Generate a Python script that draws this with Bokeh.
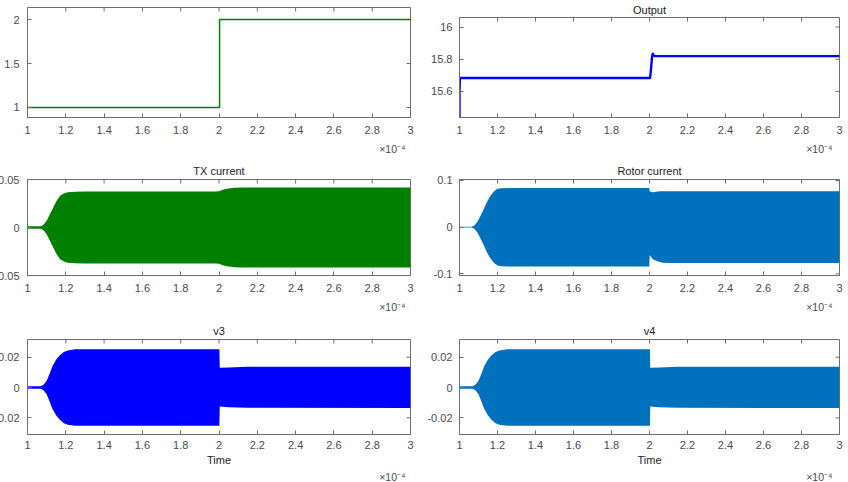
import math

from bokeh.plotting import figure
from bokeh.layouts import column, row
from bokeh.models import Range1d, FixedTicker, Title
from bokeh.embed import file_html
from bokeh.resources import INLINE

# ---------------------------------------------------------------- data
# time axis is in units of 1e-4 s
x_ticks = [1, 1.2, 1.4, 1.6, 1.8, 2, 2.2, 2.4, 2.6, 2.8, 3]
x_tick_labels = ["1", "1.2", "1.4", "1.6", "1.8", "2", "2.2", "2.4", "2.6", "2.8", "3"]

# input step
input_t = [1.0, 2.003, 2.003, 3.0]
input_v = [1.0, 1.0, 2.0, 2.0]

# output
output_t = [1.0, 1.0, 1.002, 2.003, 2.008, 2.013, 2.017, 2.022, 2.03, 3.0]
output_v = [15.44, 15.60, 15.683, 15.683, 15.74, 15.81, 15.834, 15.823, 15.819, 15.819]

# TX current envelope
tx_t = [1.00, 1.07, 1.085, 1.10, 1.115, 1.13, 1.15, 1.17, 1.19, 1.21, 1.25, 1.30,
        1.98, 2.00, 2.02, 2.04, 2.06, 2.08, 2.12, 3.00]
tx_hi = [0.0012, 0.0012, 0.003, 0.007, 0.013, 0.019, 0.027, 0.033, 0.0355, 0.0368, 0.0373, 0.0375,
         0.0375, 0.0378, 0.0392, 0.0403, 0.041, 0.0414, 0.0416, 0.0416]
tx_lo = [-0.0012, -0.0012, -0.003, -0.007, -0.013, -0.019, -0.027, -0.033, -0.0355, -0.0368, -0.0373, -0.0375,
         -0.0375, -0.0378, -0.0392, -0.0403, -0.041, -0.0414, -0.0416, -0.0416]

# rotor current envelope
rotor_t = [1.00, 1.065, 1.08, 1.095, 1.11, 1.125, 1.14, 1.155, 1.17, 1.185, 1.20, 1.22, 1.26,
           1.999, 2.001, 2.01, 2.02, 2.035, 2.05, 2.07, 2.10, 3.00]
rotor_hi = [0.001, 0.001, 0.004, 0.012, 0.024, 0.036, 0.050, 0.062, 0.071, 0.078, 0.082, 0.0835, 0.084,
            0.084, 0.077, 0.075, 0.0745, 0.076, 0.077, 0.077, 0.077, 0.077]
rotor_lo = [-0.001, -0.001, -0.004, -0.012, -0.024, -0.036, -0.050, -0.062, -0.071, -0.078, -0.082, -0.0835, -0.084,
            -0.084, -0.060, -0.065, -0.069, -0.072, -0.074, -0.076, -0.077, -0.077]

# v3 envelope
v3_t = [1.00, 1.07, 1.085, 1.10, 1.115, 1.13, 1.15, 1.17, 1.19, 1.21, 1.25, 1.30,
        2.002, 2.004, 2.05, 2.15, 3.00]
v3_hi = [0.0008, 0.0008, 0.002, 0.0045, 0.009, 0.014, 0.0185, 0.0215, 0.0235, 0.0245, 0.0252, 0.0253,
         0.0253, 0.0130, 0.0133, 0.0137, 0.0137]
v3_lo = [-0.0008, -0.0008, -0.002, -0.0045, -0.009, -0.014, -0.0185, -0.0215, -0.0235, -0.0245, -0.0252, -0.0253,
         -0.0253, -0.0125, -0.0130, -0.0134, -0.0135]

# v4 envelope
v4_t = [1.00, 1.07, 1.085, 1.10, 1.115, 1.13, 1.15, 1.17, 1.19, 1.21, 1.25, 1.30,
        2.002, 2.004, 2.05, 2.15, 3.00]
v4_hi = [0.0008, 0.0008, 0.002, 0.0045, 0.009, 0.014, 0.0185, 0.0215, 0.0235, 0.0245, 0.0252, 0.0253,
         0.0253, 0.0130, 0.0133, 0.0137, 0.0137]
v4_lo = [-0.0008, -0.0008, -0.002, -0.0045, -0.009, -0.014, -0.0185, -0.0215, -0.0235, -0.0245, -0.0252, -0.0253,
         -0.0253, -0.0125, -0.0130, -0.0134, -0.0135]

# ---------------------------------------------------------------- style
FONT = "Liberation Sans"
TICK_TEXT = "#4a4a4a"
TITLE_TEXT = "#222222"
BOX = "#6e6e6e"


def overrides(ticks, labels):
    return {t: s for t, s in zip(ticks, labels)}


def panel(width, height, b_left, b_right, b_top, b_bottom, y_lo, y_hi,
          y_ticks, y_labels, y_standoff, title=None, title_standoff=3,
          xlabel=None, x_standoff=8, exp_standoff=8, exp_offset=5):
    p = figure(width=width, height=height,
               x_range=Range1d(1, 3), y_range=Range1d(y_lo, y_hi),
               output_backend="svg", toolbar_location=None,
               min_border_left=b_left, min_border_right=b_right,
               min_border_top=b_top, min_border_bottom=b_bottom,
               background_fill_color="white", border_fill_color="white",
               outline_line_color=BOX, outline_line_width=1)
    p.grid.visible = False

    xa, ya = p.xaxis[0], p.yaxis[0]
    xa.ticker = FixedTicker(ticks=x_ticks)
    xa.major_label_overrides = overrides(x_ticks, x_tick_labels)
    ya.ticker = FixedTicker(ticks=y_ticks)
    ya.major_label_overrides = overrides(y_ticks, y_labels)
    for ax in (xa, ya):
        ax.axis_line_color = BOX
        ax.major_tick_line_color = BOX
        ax.major_tick_in = 4
        ax.major_tick_out = 0
        ax.minor_tick_line_color = None
        ax.major_label_text_font = FONT
        ax.major_label_text_font_size = "11px"
        ax.major_label_text_color = TICK_TEXT
    xa.major_label_standoff = x_standoff
    ya.major_label_standoff = y_standoff

    # inward ticks along the top and right sides of the box
    p.ray(x=x_ticks, y=[y_hi] * len(x_ticks), length=4, length_units="screen",
          angle=-math.pi / 2, line_color=BOX, line_width=1)
    p.ray(x=[3] * len(y_ticks), y=y_ticks, length=4, length_units="screen",
          angle=math.pi, line_color=BOX, line_width=1)

    if xlabel:
        xa.axis_label = xlabel
        xa.axis_label_text_font = FONT
        xa.axis_label_text_font_size = "11px"
        xa.axis_label_text_font_style = "normal"
        xa.axis_label_text_color = TITLE_TEXT
        xa.axis_label_standoff = 2

    if title:
        p.title.text = title
        p.title.align = "center"
        p.title.text_font = FONT
        p.title.text_font_size = "11px"
        p.title.text_font_style = "normal"
        p.title.text_color = TITLE_TEXT
        p.title.standoff = title_standoff
    else:
        p.title = None
        p.title_location = None

    # x10^-4 exponent under the right end of the time axis
    p.add_layout(Title(text="\u00d710\u207b\u2074", align="right", text_font=FONT,
                       text_font_size="10.5px", text_font_style="normal",
                       text_color=TICK_TEXT, standoff=exp_standoff, offset=exp_offset), "below")
    return p


LEFT_W, RIGHT_W = 433, 424

# left column
p1 = panel(LEFT_W, 160, 33, 14, 7, 43, 0.886, 2.137, [1, 1.5, 2], ["1", "1.5", "2"], 8)
p1.line(input_t, input_v, line_color="#008000", line_width=1.5)

p3 = panel(LEFT_W, 160, 33, 14, 19, 45, -0.05, 0.05, [-0.05, 0, 0.05], ["-0.05", "0", "0.05"], 8,
           title="TX current", title_standoff=5)
p3.varea(x=tx_t, y1=tx_lo, y2=tx_hi, fill_color="#008000")

p5 = panel(LEFT_W, 162, 33, 14, 17, 48, -0.031, 0.0317, [-0.02, 0, 0.02], ["-0.02", "0", "0.02"], 8,
           title="v3", title_standoff=5, xlabel="Time", x_standoff=6, exp_standoff=0)
p5.varea(x=v3_t, y1=v3_lo, y2=v3_hi, fill_color="#0000ff")

# right column
p2 = panel(RIGHT_W, 160, 31, 9, 17, 43, 15.438, 16.059, [15.6, 15.8, 16], ["15.6", "15.8", "16"], 7,
           title="Output", title_standoff=3, exp_offset=7)
p2.line(output_t, output_v, line_color="#0000ff", line_width=2.4, line_join="round")

p4 = panel(RIGHT_W, 160, 31, 9, 19, 45, -0.1035, 0.102, [-0.1, 0, 0.1], ["-0.1", "0", "0.1"], 7,
           title="Rotor current", title_standoff=5, exp_offset=7)
p4.varea(x=rotor_t, y1=rotor_lo, y2=rotor_hi, fill_color="#0072bd")

p6 = panel(RIGHT_W, 162, 31, 9, 17, 48, -0.031, 0.0317, [-0.02, 0, 0.02], ["-0.02", "0", "0.02"], 7,
           title="v4", title_standoff=5, xlabel="Time", x_standoff=6, exp_standoff=0, exp_offset=7)
p6.varea(x=v4_t, y1=v4_lo, y2=v4_hi, fill_color="#0072bd")

# the left column is pulled 9 px past the page edge so its frames start at x = 24
left_col = column(p1, p3, p5, margin=(0, 0, 0, -9))
right_col = column(p2, p4, p6)
layout = row(left_col, right_col)

with open("out.html", "w") as f:
    f.write(file_html(layout, INLINE))
